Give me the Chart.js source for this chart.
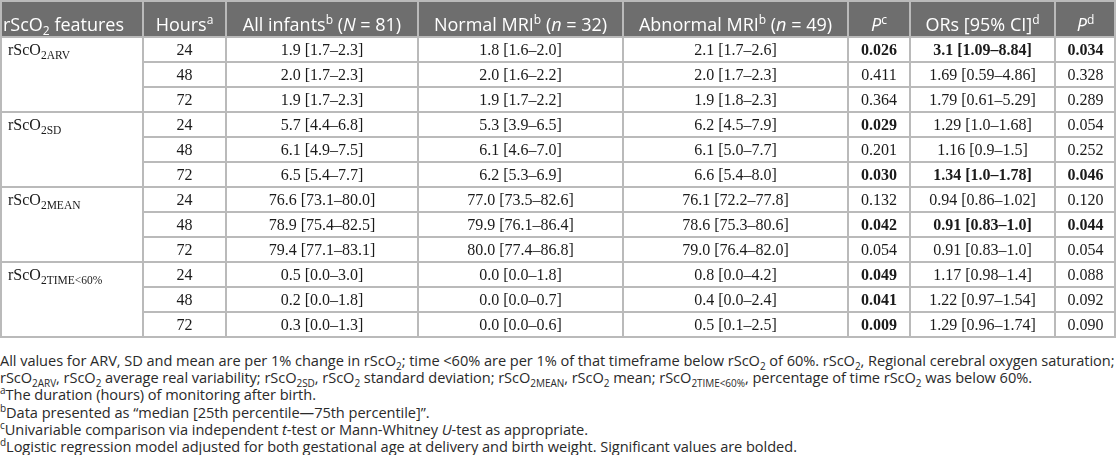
<!DOCTYPE html>
<html>
<head>
<meta charset="utf-8">
<script src="https://cdn.jsdelivr.net/npm/chart.js@4.4.0/dist/chart.umd.min.js"></script>
<style>
  body { margin: 0; background: #fff; }
  #wrap { width: 1116px; height: 339px; }
  .notes { font-family: "Open Sans", sans-serif; font-size: 14.6px; line-height: 17.2px; color: #2a2a2a; margin-top: 13px; white-space: nowrap; letter-spacing: -0.05px; }
  .notes div { height: 17.2px; }
  .notes sub, .notes sup { font-size: 10px; line-height: 0; }
</style>
</head>
<body>
<div id="wrap"><canvas id="tbl" width="1116" height="339"></canvas></div>
<div class="notes">
  <div>All values for ARV, SD and mean are per 1% change in rScO<sub>2</sub>; time &lt;60% are per 1% of that timeframe below rScO<sub>2</sub> of 60%. rScO<sub>2</sub>, Regional cerebral oxygen saturation;</div>
  <div>rScO<sub>2ARV</sub>, rScO<sub>2</sub> average real variability; rScO<sub>2SD</sub>, rScO<sub>2</sub> standard deviation; rScO<sub>2MEAN</sub>, rScO<sub>2</sub> mean; rScO<sub>2TIME&lt;60%</sub>, percentage of time rScO<sub>2</sub> was below 60%.</div>
  <div><sup>a</sup>The duration (hours) of monitoring after birth.</div>
  <div><sup>b</sup>Data presented as “median [25th percentile—75th percentile]”.</div>
  <div><sup>c</sup>Univariable comparison via independent <i>t</i>-test or Mann-Whitney <i>U</i>-test as appropriate.</div>
  <div><sup>d</sup>Logistic regression model adjusted for both gestational age at delivery and birth weight. Significant values are bolded.</div>
</div>
<script>
// table data
var features = ["ARV", "SD", "MEAN", "TIME<60%"];
var hours = [24, 48, 72];
var groupN = [81, 32, 49];
var allInfants = ["1.9 [1.7–2.3]", "2.0 [1.7–2.3]", "1.9 [1.7–2.3]", "5.7 [4.4–6.8]", "6.1 [4.9–7.5]", "6.5 [5.4–7.7]", "76.6 [73.1–80.0]", "78.9 [75.4–82.5]", "79.4 [77.1–83.1]", "0.5 [0.0–3.0]", "0.2 [0.0–1.8]", "0.3 [0.0–1.3]"];
var normalMri = ["1.8 [1.6–2.0]", "2.0 [1.6–2.2]", "1.9 [1.7–2.2]", "5.3 [3.9–6.5]", "6.1 [4.6–7.0]", "6.2 [5.3–6.9]", "77.0 [73.5–82.6]", "79.9 [76.1–86.4]", "80.0 [77.4–86.8]", "0.0 [0.0–1.8]", "0.0 [0.0–0.7]", "0.0 [0.0–0.6]"];
var abnormalMri = ["2.1 [1.7–2.6]", "2.0 [1.7–2.3]", "1.9 [1.8–2.3]", "6.2 [4.5–7.9]", "6.1 [5.0–7.7]", "6.6 [5.4–8.0]", "76.1 [72.2–77.8]", "78.6 [75.3–80.6]", "79.0 [76.4–82.0]", "0.8 [0.0–4.2]", "0.4 [0.0–2.4]", "0.5 [0.1–2.5]"];
var pUni = ["0.026", "0.411", "0.364", "0.029", "0.201", "0.030", "0.132", "0.042", "0.054", "0.049", "0.041", "0.009"];
var orCi = ["3.1 [1.09–8.84]", "1.69 [0.59–4.86]", "1.79 [0.61–5.29]", "1.29 [1.0–1.68]", "1.16 [0.9–1.5]", "1.34 [1.0–1.78]", "0.94 [0.86–1.02]", "0.91 [0.83–1.0]", "0.91 [0.83–1.0]", "1.17 [0.98–1.4]", "1.22 [0.97–1.54]", "1.29 [0.96–1.74]"];
var pAdj = ["0.034", "0.328", "0.289", "0.054", "0.252", "0.046", "0.120", "0.044", "0.054", "0.088", "0.092", "0.090"];

// layout
var colW = [143, 83, 192, 205, 225, 62, 145, 61];
var headerH = 37;
var rowH = 25;
var tableW = colW.reduce((a, b) => a + b, 0);
var tableH = headerH + rowH * hours.length * features.length;
var colEdge = [0];
colW.forEach((w) => colEdge.push(colEdge[colEdge.length - 1] + w));

var headFont = '"Open Sans", sans-serif';
var cellFont = '"Liberation Serif", "Times New Roman", serif';

function colMid(c) { return (colEdge[c] + colEdge[c + 1]) / 2; }
function rowMid(r) { return headerH + rowH * r + rowH / 2; }

// header text as runs (s = sub, p = sup, i = italic)
var headers = [
  [["rScO"], ["2", "s"], [" features"]],
  [["Hours"], ["a", "p"]],
  [["All infants"], ["b", "p"], [" ("], ["N", "i"], [" = " + groupN[0] + ")"]],
  [["Normal MRI"], ["b", "p"], [" ("], ["n", "i"], [" = " + groupN[1] + ")"]],
  [["Abnormal MRI"], ["b", "p"], [" ("], ["n", "i"], [" = " + groupN[2] + ")"]],
  [["P", "i"], ["c", "p"]],
  [["ORs [95% CI]"], ["d", "p"]],
  [["P", "i"], ["d", "p"]]
];

var columns = [null, null, allInfants, normalMri, abnormalMri, pUni, orCi, pAdj];

// one scatter dataset per column, one point per cell
var datasets = [];
for (var c = 0; c < colW.length; c++) {
  var pts = [{ x: colMid(c), y: headerH / 2, runs: headers[c], head: true }];
  for (var r = 0; r < hours.length * features.length; r++) {
    if (c === 0) {
      if (r % hours.length === 0) {
        pts.push({ x: colMid(c), y: rowMid(r), runs: [["rScO"], ["2" + features[r / hours.length].toUpperCase(), "s"]] });
      }
      continue;
    }
    var txt = c === 1 ? String(hours[r % hours.length]) : columns[c][r];
    var bold = false;
    if (c === 5) bold = parseFloat(pUni[r]) < 0.05;
    if (c === 6 || c === 7) bold = parseFloat(pAdj[r]) < 0.05;
    pts.push({ x: colMid(c), y: rowMid(r), runs: [[txt, bold ? "b" : ""]] });
  }
  datasets.push({ label: "col" + c, data: pts, pointRadius: 0, showLine: false });
}

function fontFor(kind, head, size) {
  var st = kind.indexOf("i") >= 0 ? "italic " : "";
  var wt = kind.indexOf("b") >= 0 ? "bold " : "";
  return st + wt + size + "px " + (head ? headFont : cellFont);
}

function drawRuns(ctx, runs, x, y, align, head) {
  var base = head ? 18 : 16;
  var parts = runs.map((rn) => {
    var kind = rn[1] || "";
    var small = kind === "s" || kind === "p";
    var size = small ? (head ? 12 : 11.5) : base;
    var dy = kind === "s" ? 4 : (kind === "p" ? -7 : 0);
    ctx.font = fontFor(kind, head, size);
    return { t: rn[0], font: ctx.font, dy: dy, w: ctx.measureText(rn[0]).width };
  });
  var total = parts.reduce((a, p) => a + p.w, 0);
  var sx = align === "left" ? x : x - total / 2;
  parts.forEach((p) => {
    ctx.font = p.font;
    ctx.fillText(p.t, sx, y + p.dy);
    sx += p.w;
  });
}

const tablePlugin = {
  id: 'tableDraw',
  afterDatasetsDraw(chart) {
    const ctx = chart.ctx;
    const x = chart.scales.x;
    const y = chart.scales.y;
    ctx.save();

    // header background
    ctx.fillStyle = '#6e6e6e';
    ctx.fillRect(x.getPixelForValue(0), y.getPixelForValue(0), x.getPixelForValue(tableW) - x.getPixelForValue(0), y.getPixelForValue(headerH) - y.getPixelForValue(0));

    // grid lines
    ctx.strokeStyle = '#bababa';
    ctx.lineWidth = 2;
    ctx.beginPath();
    colEdge.forEach((e) => {
      var px = Math.min(Math.max(x.getPixelForValue(e), 1), x.getPixelForValue(tableW) - 1);
      ctx.moveTo(px, y.getPixelForValue(0));
      ctx.lineTo(px, y.getPixelForValue(tableH) + 1);
    });
    ctx.moveTo(x.getPixelForValue(0), y.getPixelForValue(0) + 1);
    ctx.lineTo(x.getPixelForValue(tableW), y.getPixelForValue(0) + 1);
    for (var r = 0; r <= hours.length * features.length; r++) {
      var yy = y.getPixelForValue(headerH + rowH * r);
      var fromCol = (r % hours.length === 0) ? 0 : 1;
      ctx.moveTo(x.getPixelForValue(colEdge[fromCol]), yy);
      ctx.lineTo(x.getPixelForValue(tableW), yy);
    }
    ctx.stroke();

    // cell text
    ctx.textBaseline = 'alphabetic';
    chart.data.datasets.forEach((ds, di) => {
      const meta = chart.getDatasetMeta(di);
      ds.data.forEach((d, i) => {
        const el = meta.data[i];
        ctx.fillStyle = d.head ? '#ffffff' : '#1a1a1a';
        if (di === 0) {
          var lx = x.getPixelForValue(colEdge[0]) + (d.head ? 3 : 8);
          drawRuns(ctx, d.runs, lx, el.y + (d.head ? 12 : 5.5), 'left', d.head);
        } else {
          drawRuns(ctx, d.runs, el.x, el.y + (d.head ? 12 : 5.5), 'center', d.head);
        }
      });
    });
    ctx.restore();
  }
};

new Chart("tbl", {
  type: "scatter",
  data: { datasets: datasets },
  options: {
    responsive: false,
    animation: false,
    layout: { padding: 0 },
    scales: {
      x: { type: "linear", min: 0, max: tableW, display: false },
      y: { type: "linear", min: 0, max: tableH + 2, reverse: true, display: false }
    },
    plugins: {
      legend: { display: false },
      tooltip: { enabled: false }
    }
  },
  plugins: [tablePlugin]
});
</script>
</body>
</html>
